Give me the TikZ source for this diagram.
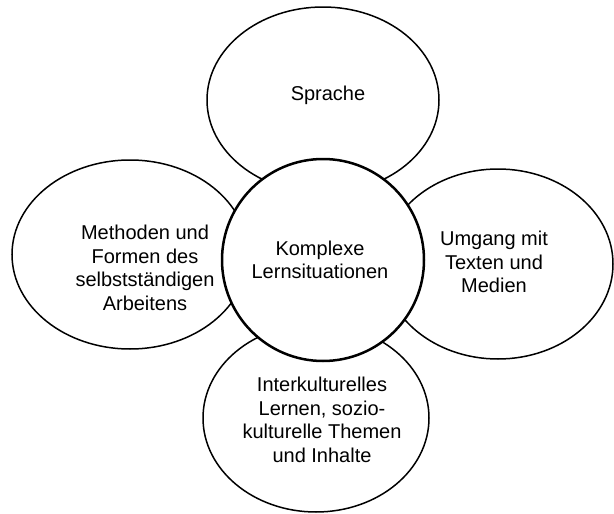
\documentclass[tikz,border=0pt]{standalone}
\usepackage{fontspec}
\setmainfont{Liberation Sans}
\usetikzlibrary{shapes.geometric}
\begin{document}
\begin{tikzpicture}[x=1pt,y=-1pt,
  outer/.style={ellipse,draw=black,fill=white,line width=1.5pt,inner sep=0pt},
  core/.style={circle,draw=black,fill=white,line width=2.5pt,inner sep=0pt,minimum size=202pt},
  lbl/.style={align=center,inner sep=0pt,font=\fontsize{20}{23.5}\selectfont}]
\useasboundingbox (0,0) rectangle (614,514);
\fill[white] (0,0) rectangle (614,514);
\node[outer,minimum width=232pt,minimum height=186pt] (top) at (323,100) {};
\node[outer,minimum width=236pt,minimum height=189pt] (left) at (130,254.5) {};
\node[outer,minimum width=230pt,minimum height=190pt] (right) at (498,264) {};
\node[outer,minimum width=226pt,minimum height=188pt] (bottom) at (316,418) {};
\node[core] (center) at (323,260) {};
\node[lbl] (ttop) at (328,95) {Sprache};
\node[lbl] (tleft) at (145,268) {Methoden und\\Formen des\\selbstständigen\\Arbeitens};
\node[lbl] (tright) at (494,262) {Umgang mit\\Texten und\\Medien};
\node[lbl] (tbottom) at (322,420) {Interkulturelles\\Lernen, sozio-\\kulturelle Themen\\und Inhalte};
\node[lbl] (tcenter) at (320,260) {Komplexe\\Lernsituationen};
\end{tikzpicture}
\end{document}
